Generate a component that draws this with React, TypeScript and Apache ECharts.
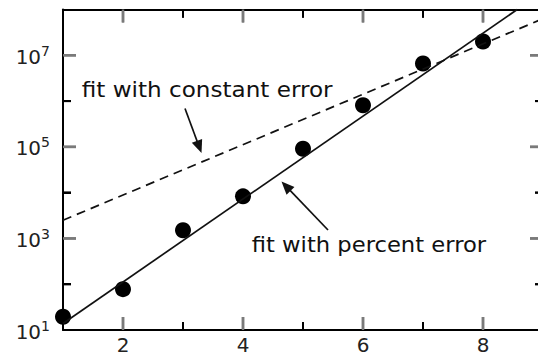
import React, { useEffect, useRef } from "react";
import * as echarts from "echarts";

// ---- data ----
const xValues = [1, 2, 3, 4, 5, 6, 7, 8];
const measured = [19.5, 78, 1510, 8300, 91000, 810000, 6.6e6, 2.0e7];
const percentFitX = [1, 8.57];
const percentFitY = [13.9, 1e8];
const constantFitX = [1, 9];
const constantFitY = [2500, 6.3e7];
const xMajorTicks = [2, 4, 6, 8];
const xMinorTicks = [3, 5, 7];
const yMajorTicks = [1e3, 1e5, 1e7];
const yMinorTicks = [1e2, 1e4, 1e6];
const labelConstant = "fit with constant error";
const labelPercent = "fit with percent error";

const X_MIN = 1;
const X_MAX = 9;
const Y_MIN = 10;
const Y_MAX = 1e8;
const X_MID = 5;
const Y_MID = 1e4;

const FONT = "DejaVu Sans";
const INK = "#111";
const MAJOR_LEN = 13;
const MINOR_LEN = 8;
const MAJOR_W = 2.5;
const MINOR_W = 2;
const MAJOR_COLOR = "#7a7a7a";
const MINOR_COLOR = "#000";

function arrow(tail: number[], tip: number[], headLen: number, halfW: number) {
  const dx = tip[0] - tail[0];
  const dy = tip[1] - tail[1];
  const L = Math.hypot(dx, dy);
  const ux = dx / L;
  const uy = dy / L;
  const bx = tip[0] - ux * headLen;
  const by = tip[1] - uy * headLen;
  const px = -uy;
  const py = ux;
  return [
    {
      type: "line",
      shape: { x1: tail[0], y1: tail[1], x2: bx + ux * 2, y2: by + uy * 2 },
      style: { stroke: INK, lineWidth: 1.7 },
    },
    {
      type: "polygon",
      shape: {
        points: [
          [tip[0], tip[1]],
          [bx + px * halfW, by + py * halfW],
          [bx - px * halfW, by - py * halfW],
        ],
      },
      style: { fill: INK },
    },
  ];
}

type Side = "bottom" | "top" | "left" | "right";

// rectangle of an inward tick, from the pixel point on the frame
function tickRect(side: Side, c: number[], len: number) {
  const major = len > 10;
  const w = major ? MAJOR_W : MINOR_W;
  const fill = major ? MAJOR_COLOR : MINOR_COLOR;
  let shape: any;
  if (side === "bottom") shape = { x: c[0] - w / 2, y: c[1] - len, width: w, height: len };
  else if (side === "top") shape = { x: c[0] - w / 2, y: c[1], width: w, height: len };
  else if (side === "left") shape = { x: c[0], y: c[1] - w / 2, width: len, height: w };
  else shape = { x: c[0] - len, y: c[1] - w / 2, width: len, height: w };
  return { type: "rect", shape, style: { fill } };
}

function edgePoint(side: Side, v: number) {
  if (side === "bottom") return [v, Y_MIN];
  if (side === "top") return [v, Y_MAX];
  if (side === "left") return [X_MIN, v];
  return [X_MAX, v];
}

function tickList(side: Side) {
  const out: { v: number; len: number }[] = [];
  const majors = side === "bottom" || side === "top" ? xMajorTicks : yMajorTicks;
  const minors = side === "bottom" || side === "top" ? xMinorTicks : yMinorTicks;
  majors.forEach((v) => out.push({ v, len: MAJOR_LEN }));
  minors.forEach((v) => out.push({ v, len: MINOR_LEN }));
  return out;
}

// custom series: the data item sits inside the plot, the tick is placed on the frame via api.coord
function tickSeries(side: Side) {
  const list = tickList(side);
  return {
    type: "custom",
    data: list.map((t) =>
      side === "bottom" || side === "top" ? [t.v, Y_MID, t.len] : [X_MID, t.v, t.len]
    ),
    renderItem: (params: any, api: any) => {
      const t = list[params.dataIndex];
      const c = api.coord(edgePoint(side, t.v));
      return tickRect(side, c, t.len);
    },
  };
}

export default function App() {
  const ref = useRef<HTMLDivElement>(null);

  useEffect(() => {
    if (!ref.current) return;
    const chart = echarts.init(ref.current, undefined, { renderer: "svg" });

    const option: any = {
      animation: false,
      backgroundColor: "#fff",
      grid: {
        left: 63,
        top: 9.5,
        right: -5,
        bottom: 28,
        containLabel: false,
        outerBoundsMode: "none",
      },
      xAxis: [
        {
          type: "value",
          position: "bottom",
          min: X_MIN,
          max: X_MAX,
          interval: 1,
          axisLine: { show: true, onZero: false, lineStyle: { color: "#000", width: 2 } },
          axisTick: { show: true, inside: true, length: MINOR_LEN, customValues: xMinorTicks, lineStyle: { color: MINOR_COLOR, width: MINOR_W } },
          axisLabel: {
            show: true,
            margin: 5,
            fontFamily: FONT,
            fontSize: 20,
            color: "#222",
            formatter: (v: number) => (v % 2 === 0 ? String(v) : ""),
          },
          splitLine: { show: false },
        },
        {
          type: "value",
          position: "top",
          min: X_MIN,
          max: X_MAX,
          interval: 1,
          axisLine: { show: true, onZero: false, lineStyle: { color: "#000", width: 2 } },
          axisTick: { show: true, inside: true, length: MINOR_LEN, customValues: xMinorTicks, lineStyle: { color: MINOR_COLOR, width: MINOR_W } },
          axisLabel: { show: false },
          splitLine: { show: false },
        },
      ],
      yAxis: [
        {
          type: "log",
          position: "left",
          min: Y_MIN,
          max: Y_MAX,
          axisLine: { show: true, onZero: false, lineStyle: { color: "#000", width: 2 } },
          axisTick: { show: true, inside: true, length: MINOR_LEN, customValues: yMinorTicks, lineStyle: { color: MINOR_COLOR, width: MINOR_W } },
          axisLabel: {
            show: true,
            margin: 13,
            fontFamily: FONT,
            color: "#222",
            formatter: (v: number) => {
              const e = Math.log10(v);
              const r = Math.round(e);
              if (Math.abs(e - r) > 1e-6 || r % 2 === 0) return "";
              return "{b|10}{s|" + r + "}";
            },
            rich: {
              b: { fontFamily: FONT, fontSize: 20, color: "#222", lineHeight: 23, verticalAlign: "bottom" },
              s: { fontFamily: FONT, fontSize: 14, color: "#222", lineHeight: 14, verticalAlign: "top" },
            },
          },
          splitLine: { show: false },
        },
      ],
      series: [
        {
          type: "line",
          name: "percent fit",
          data: percentFitX.map((x, i) => [x, percentFitY[i]]),
          symbol: "none",
          clip: false,
          lineStyle: { color: INK, width: 1.7 },
        },
        {
          type: "line",
          name: "constant fit",
          data: constantFitX.map((x, i) => [x, constantFitY[i]]),
          symbol: "none",
          clip: false,
          lineStyle: { color: INK, width: 1.7, type: [9, 6] },
        },
        {
          type: "scatter",
          name: "data",
          data: xValues.map((x, i) => [x, measured[i]]),
          symbol: "circle",
          symbolSize: 16,
          itemStyle: { color: "#000", opacity: 1 },
        },
        tickSeries("bottom"),
        tickSeries("top"),
        tickSeries("left"),
        tickSeries("right"),
      ],
    };

    chart.setOption(option);

    // the same ticks once more as graphic elements, placed with the grid's own conversion
    const ticks: any[] = [];
    (["bottom", "top", "left", "right"] as Side[]).forEach((side) => {
      tickList(side).forEach((t) => {
        const c = chart.convertToPixel({ gridIndex: 0 } as any, edgePoint(side, t.v)) as number[];
        if (c && isFinite(c[0]) && isFinite(c[1])) ticks.push(tickRect(side, c, t.len));
      });
    });

    chart.setOption({
      graphic: [
        {
          type: "text",
          x: 81.7,
          y: 89,
          scaleX: 1.05,
          style: {
            text: labelConstant,
            fontFamily: FONT,
            fontSize: 22,
            fill: INK,
            textAlign: "left",
            align: "left",
            textVerticalAlign: "middle",
            verticalAlign: "middle",
          },
        },
        {
          type: "text",
          x: 251.7,
          y: 244,
          scaleX: 1.03,
          style: {
            text: labelPercent,
            fontFamily: FONT,
            fontSize: 22,
            fill: INK,
            textAlign: "left",
            align: "left",
            textVerticalAlign: "middle",
            verticalAlign: "middle",
          },
        },
        ...arrow([185, 108.5], [201.5, 153], 13, 5.5),
        ...arrow([328, 230], [281.5, 181.5], 13, 5.5),
        ...ticks,
      ],
    });

    return () => chart.dispose();
  }, []);

  return (
    <div
      ref={ref}
      style={{ position: "fixed", left: 0, top: 0, width: 538, height: 358, background: "#fff" }}
    />
  );
}
